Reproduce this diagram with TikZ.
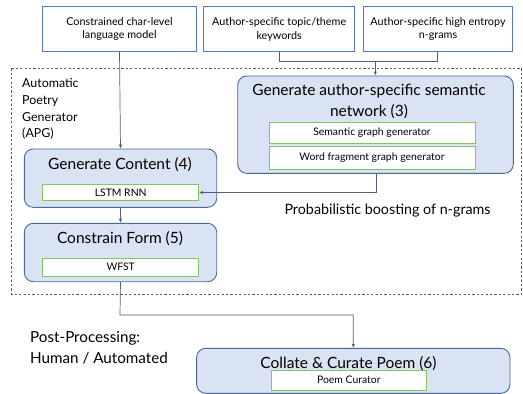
\documentclass[tikz,border=0pt]{standalone}
\usepackage{fontspec}
\setmainfont{Lato}
\usetikzlibrary{arrows.meta}
\definecolor{topblue}{HTML}{4F78CC}
\definecolor{boxfill}{HTML}{DAE3F3}
\definecolor{boxline}{HTML}{4A6796}
\definecolor{greenline}{HTML}{86C45E}
\definecolor{arrowc}{HTML}{4C6080}
\tikzset{
  topbox/.style={draw=topblue, line width=0.9pt, fill=white, align=center, font=\fontsize{10.8}{13.5}\selectfont, inner sep=0pt},
  bigbox/.style={draw=boxline, line width=0.9pt, fill=boxfill, rounded corners=9pt, inner sep=0pt},
  innerbox/.style={draw=greenline, line width=0.9pt, fill=white, font=\fontsize{10.4}{11}\selectfont, inner sep=0pt},
  title/.style={font=\fontsize{15.5}{21}\selectfont, align=center, inner sep=0pt},
  conn/.style={draw=arrowc, line width=0.7pt},
  arr/.style={conn, -{Latex[length=4pt,width=3.5pt]}},
}
\begin{document}
\begin{tikzpicture}[x=1pt,y=-1pt]
\useasboundingbox (0,0) rectangle (523,394);
% top boxes
\node[topbox, minimum width=154.4pt, minimum height=45pt] (lm) at (119.5,29.2) {Constrained char-level\\language model};
\node[topbox, minimum width=151pt, minimum height=45pt] (kw) at (279.2,29.2) {Author-specific topic/theme\\keywords};
\node[topbox, minimum width=149.4pt, minimum height=45.7pt] (ng) at (438,28.85) {Author-specific high entropy\\n-grams};
% dashed APG region
\draw[draw=black!65, dashed, line width=0.7pt, dash pattern=on 2.2pt off 2.2pt] (11.7,68.3) rectangle (521.7,294);
\node[anchor=west, align=left, font=\fontsize{12.4}{16.6}\selectfont, inner sep=0pt] (apg) at (22,109.2) {Automatic\\Poetry\\Generator\\(APG)};
% semantic network
\node[bigbox, minimum width=275.6pt, minimum height=97.3pt] (sem) at (375.5,124.65) {};
\node[title] (semt) at (369,101.5) {Generate author-specific semantic\\network (3)};
\node[innerbox, minimum width=206pt, minimum height=20.6pt] (sg) at (372,133) {Semantic graph generator};
\node[innerbox, minimum width=206pt, minimum height=22.6pt] (wf) at (372,158) {Word fragment graph generator};
% generate content
\node[bigbox, minimum width=192.4pt, minimum height=58.3pt] (gc) at (120.5,178.15) {};
\node[title] (gct) at (120,165) {Generate Content (4)};
\node[innerbox, minimum width=156pt, minimum height=16.4pt] (lstm) at (120.7,192.5) {LSTM RNN};
% constrain form
\node[bigbox, minimum width=192.4pt, minimum height=58.4pt] (cf) at (120.5,252.5) {};
\node[title] (cft) at (120,238.3) {Constrain Form (5)};
\node[innerbox, minimum width=156pt, minimum height=17.7pt] (wfst) at (120.7,267.2) {WFST};
% collate
\node[bigbox, minimum width=313.3pt, minimum height=45pt] (cc) at (353.3,370.8) {};
\node[title] (cct) at (348.5,363.3) {Collate \& Curate Poem (6)};
\node[innerbox, minimum width=154.3pt, minimum height=20pt] (pc) at (348.8,380) {Poem Curator};
% labels
\node[font=\fontsize{14.3}{20.6}\selectfont, anchor=west, inner sep=0pt] (pb) at (284.3,210.7) {Probabilistic boosting of n-grams};
\node[font=\fontsize{15.2}{20.6}\selectfont, anchor=west, align=left, inner sep=0pt] (pp) at (30,347.5) {Post-Processing:\\Human / Automated};
% connectors
\coordinate (j1) at (375.3,61.7);
\draw[conn] (kw.south -| 279.3,0) |- (j1);
\draw[conn] (ng.south -| 437.7,0) |- (j1);
\draw[arr] (j1) -- (j1 |- sem.north);
\draw[arr] (lm.south) -- (gc.north);
\draw[arr] (sem.south -| 376,0) |- (lstm.east);
\draw[arr] (gc.south) -- (cf.north);
\coordinate (j2) at (120,315);
\draw[arr] (cf.south) -- (j2) -| (cc.north);
\end{tikzpicture}
\end{document}
